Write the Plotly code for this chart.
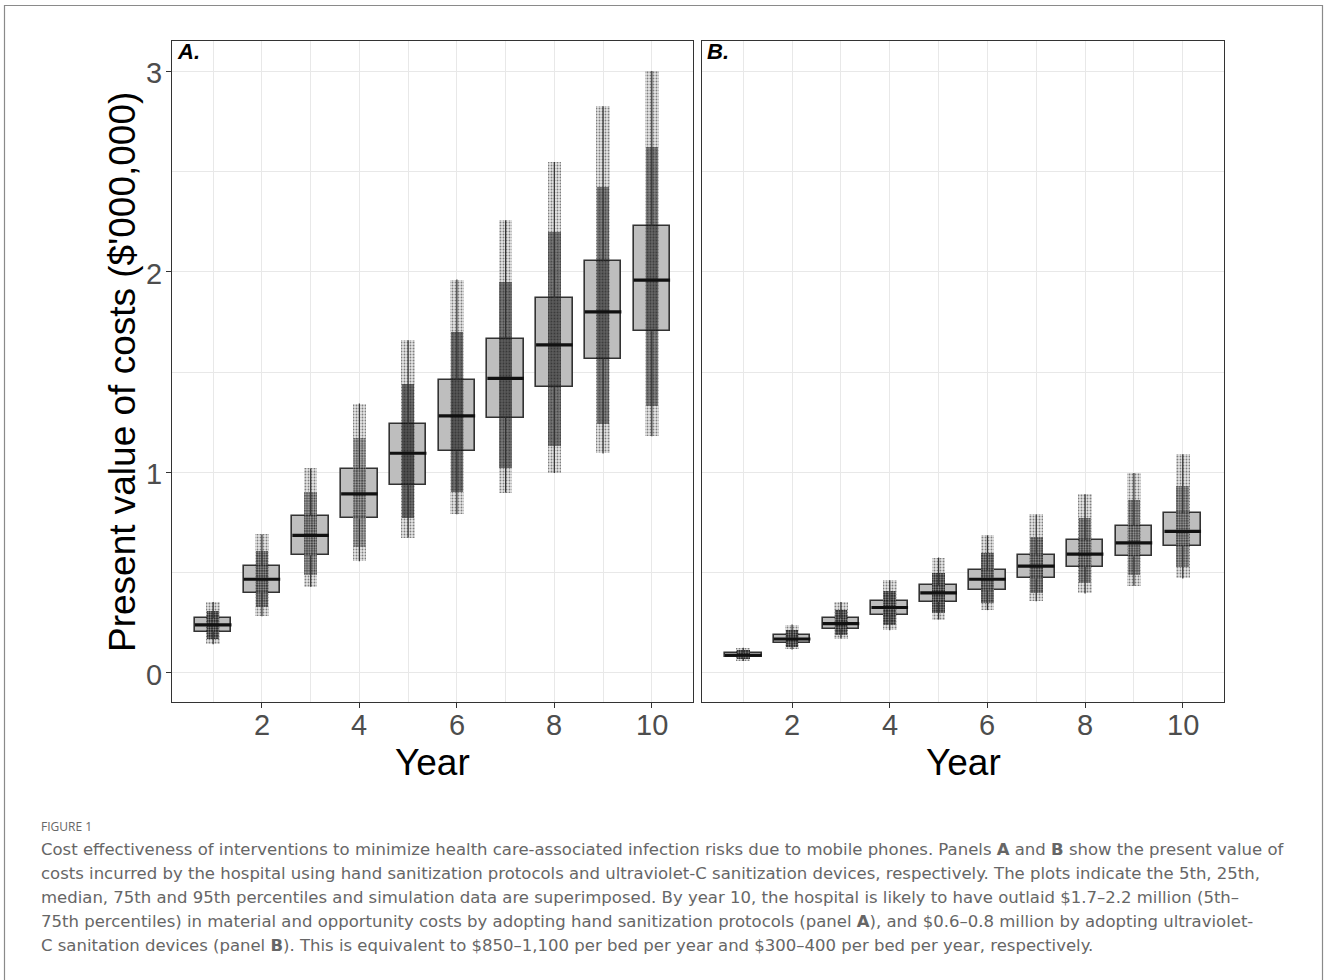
import plotly.graph_objects as go

# ---------------- data ($ millions) ----------------
years = [1, 2, 3, 4, 5, 6, 7, 8, 9, 10]
x_ticks = [2, 4, 6, 8, 10]
y_ticks = [0, 1, 2, 3]

# Panel A: hand sanitization protocols
a_min = [0.143, 0.283, 0.429, 0.557, 0.675, 0.791, 0.899, 0.997, 1.094, 1.180]
a_p5 = [0.170, 0.330, 0.490, 0.630, 0.770, 0.900, 1.020, 1.130, 1.240, 1.330]
a_q1 = [0.206, 0.399, 0.587, 0.770, 0.936, 1.105, 1.273, 1.426, 1.567, 1.703]
a_med = [0.239, 0.467, 0.686, 0.892, 1.095, 1.281, 1.468, 1.635, 1.800, 1.958]
a_q3 = [0.274, 0.533, 0.783, 1.015, 1.240, 1.459, 1.667, 1.869, 2.054, 2.227]
a_p95 = [0.310, 0.610, 0.900, 1.170, 1.440, 1.700, 1.950, 2.200, 2.420, 2.620]
a_max = [0.354, 0.690, 1.019, 1.343, 1.658, 1.961, 2.257, 2.547, 2.825, 3.001]

# Panel B: ultraviolet-C sanitization devices
b_min = [0.060, 0.117, 0.171, 0.213, 0.266, 0.313, 0.357, 0.396, 0.434, 0.471]
b_p5 = [0.070, 0.130, 0.190, 0.240, 0.300, 0.350, 0.400, 0.450, 0.490, 0.530]
b_q1 = [0.077, 0.147, 0.218, 0.291, 0.354, 0.412, 0.471, 0.529, 0.582, 0.633]
b_med = [0.088, 0.169, 0.246, 0.326, 0.399, 0.467, 0.532, 0.592, 0.648, 0.706]
b_q3 = [0.100, 0.189, 0.274, 0.357, 0.436, 0.512, 0.590, 0.662, 0.733, 0.795]
b_p95 = [0.115, 0.215, 0.315, 0.410, 0.500, 0.600, 0.680, 0.770, 0.860, 0.930]
b_max = [0.125, 0.241, 0.354, 0.462, 0.575, 0.686, 0.790, 0.891, 0.997, 1.090]

y_title = "Present value of costs ($'000,000)"
x_title = "Year"
panel_labels = ["A.", "B."]
fig_label = "FIGURE 1"
caption_lines = [
    "Cost effectiveness of interventions to minimize health care-associated infection risks due to mobile phones. Panels <b>A</b> and <b>B</b> show the present value of",
    "costs incurred by the hospital using hand sanitization protocols and ultraviolet-C sanitization devices, respectively. The plots indicate the 5th, 25th,",
    "median, 75th and 95th percentiles and simulation data are superimposed. By year 10, the hospital is likely to have outlaid $1.7–2.2 million (5th–",
    "75th percentiles) in material and opportunity costs by adopting hand sanitization protocols (panel <b>A</b>), and $0.6–0.8 million by adopting ultraviolet-",
    "C sanitation devices (panel <b>B</b>). This is equivalent to $850–1,100 per bed per year and $300–400 per bed per year, respectively.",
]

# ---------------- styling ----------------
W, H = 1328, 980
FONT = "Arial, Liberation Sans, sans-serif"
CAP_FONT = "DejaVu Sans, Open Sans, sans-serif"
BOX_W = 0.75
CLOUD_W = 0.28
FRAME = "#333333"
GRID = "#e8e8e8"
TICK_COL = "#4d4d4d"

panels = [
    dict(xa="x", ya="y", mn=a_min, p5=a_p5, q1=a_q1, md=a_med, q3=a_q3, p95=a_p95, mx=a_max),
    dict(xa="x2", ya="y2", mn=b_min, p5=b_p5, q1=b_q1, md=b_med, q3=b_q3, p95=b_p95, mx=b_max),
]

fig = go.Figure()

for p in panels:
    # boxes (lower hinge to upper hinge)
    fig.add_trace(go.Bar(
        x=years, base=p["q1"], y=[h - l for l, h in zip(p["q1"], p["q3"])],
        width=BOX_W, xaxis=p["xa"], yaxis=p["ya"],
        marker=dict(color="#bebebe", line=dict(color=FRAME, width=1.6)),
        showlegend=False, hoverinfo="skip",
    ))
    # whiskers
    wx, wy = [], []
    for yr, mn, q1, q3, mx in zip(years, p["mn"], p["q1"], p["q3"], p["mx"]):
        wx += [yr, yr, None, yr, yr, None]
        wy += [q3, mx, None, mn, q1, None]
    fig.add_trace(go.Scatter(
        x=wx, y=wy, mode="lines", xaxis=p["xa"], yaxis=p["ya"],
        line=dict(color=FRAME, width=1.2), showlegend=False, hoverinfo="skip",
    ))
    # superimposed simulation data: sparse tails (min-max) and dense core (5th-95th)
    rng_core = [h - l for l, h in zip(p["p5"], p["p95"])]
    core_alpha = [min(0.9, max(0.3, 0.42 / r ** 0.45)) for r in rng_core]
    fig.add_trace(go.Bar(
        x=years, base=p["mn"], y=[h - l for l, h in zip(p["mn"], p["mx"])],
        width=CLOUD_W, xaxis=p["xa"], yaxis=p["ya"],
        marker=dict(color="rgba(0,0,0,0.10)", line=dict(width=0),
                    pattern=dict(shape=".", fillmode="overlay", size=3, solidity=0.3,
                                 fgcolor="black", fgopacity=0.45)),
        showlegend=False, hoverinfo="skip",
    ))
    fig.add_trace(go.Bar(
        x=years, base=p["p5"], y=rng_core,
        width=CLOUD_W * 0.92, xaxis=p["xa"], yaxis=p["ya"],
        marker=dict(color=[f"rgba(0,0,0,{a:.2f})" for a in core_alpha], line=dict(width=0),
                    pattern=dict(shape=".", fillmode="overlay", size=2.5, solidity=0.45,
                                 fgcolor="black", fgopacity=0.6)),
        showlegend=False, hoverinfo="skip",
    ))
    # medians
    mx_, my_ = [], []
    for yr, md in zip(years, p["md"]):
        mx_ += [yr - BOX_W / 2, yr + BOX_W / 2, None]
        my_ += [md, md, None]
    fig.add_trace(go.Scatter(
        x=mx_, y=my_, mode="lines", xaxis=p["xa"], yaxis=p["ya"],
        line=dict(color="#111111", width=3.2), showlegend=False, hoverinfo="skip",
    ))

# ---------------- axes ----------------
def px_x(v):
    return v / W

def px_y(v):
    return 1 - v / H

xdomA = [px_x(172), px_x(693)]
xdomB = [px_x(702), px_x(1224)]
ydom = [px_y(702), px_y(41)]

xcommon = dict(
    range=[0.155, 10.845], tickmode="array", tickvals=x_ticks, showticklabels=False,
    ticks="outside", ticklen=5, tickwidth=1.1, tickcolor=FRAME,
    showgrid=True, gridcolor=GRID, gridwidth=1.2,
    minor=dict(tickvals=[1, 3, 5, 7, 9], showgrid=True, gridcolor=GRID, gridwidth=1.0, ticks=""),
    showline=True, mirror=True, linecolor=FRAME, linewidth=1.3, zeroline=False,
)
ycommon = dict(
    range=[-0.145, 3.15], tickmode="array", tickvals=y_ticks, showticklabels=False,
    showgrid=True, gridcolor=GRID, gridwidth=1.2,
    minor=dict(tickvals=[0.5, 1.5, 2.5], showgrid=True, gridcolor=GRID, gridwidth=1.0, ticks=""),
    showline=True, mirror=True, linecolor=FRAME, linewidth=1.3, zeroline=False,
)

fig.update_layout(
    width=W, height=H, margin=dict(l=0, r=0, t=0, b=0),
    paper_bgcolor="white", plot_bgcolor="white",
    barmode="overlay", bargap=0, showlegend=False,
    xaxis=dict(domain=xdomA, anchor="y", **xcommon),
    yaxis=dict(domain=ydom, anchor="x", ticks="outside", ticklen=5, tickwidth=1.1,
               tickcolor=FRAME, **ycommon),
    xaxis2=dict(domain=xdomB, anchor="y2", **xcommon),
    yaxis2=dict(domain=ydom, anchor="x2", matches="y", ticks="", **ycommon),
)

# ---------------- text ----------------
ann = []
# tick labels placed on the axes' own scales
for xr in ["x", "x2"]:
    for t in x_ticks:
        ann.append(dict(text=str(t), x=t, xref=xr, y=px_y(725), yref="paper",
                        showarrow=False, xanchor="center", yanchor="middle",
                        font=dict(family=FONT, size=29, color=TICK_COL)))
for t in y_ticks:
    ann.append(dict(text=str(t), x=px_x(164), xref="paper", y=t, yref="y",
                    showarrow=False, xanchor="right", yanchor="middle", yshift=-2,
                    font=dict(family=FONT, size=29, color=TICK_COL)))
ann.append(dict(text=y_title, x=px_x(122), y=px_y(372), xref="paper", yref="paper",
                textangle=-90, showarrow=False, xanchor="center", yanchor="middle",
                font=dict(family=FONT, size=37, color="black")))
for cx in [432.5, 963]:
    ann.append(dict(text=x_title, x=px_x(cx), y=px_y(762), xref="paper", yref="paper",
                    showarrow=False, xanchor="center", yanchor="middle",
                    font=dict(family=FONT, size=37, color="black")))
for lbl, lx in zip(panel_labels, [175, 705]):
    ann.append(dict(text=f"<b><i>{lbl}</i></b>", x=px_x(lx), y=px_y(52), xref="paper", yref="paper",
                    showarrow=False, xanchor="left", yanchor="middle",
                    font=dict(family=FONT, size=22, color="black")))
ann.append(dict(text=fig_label, x=px_x(39), y=px_y(826), xref="paper", yref="paper",
                showarrow=False, xanchor="left", yanchor="middle",
                font=dict(family="Open Sans, sans-serif", size=12, color="#666666")))
for i, line in enumerate(caption_lines):
    ann.append(dict(text=line, x=px_x(39), y=px_y(849 + 24 * i), xref="paper", yref="paper",
                    showarrow=False, xanchor="left", yanchor="middle",
                    font=dict(family=CAP_FONT, size=16.5, color="#666666")))
fig.update_layout(annotations=ann)

# outer figure border (open at the bottom of the image)
fig.add_shape(type="rect", xref="paper", yref="paper",
              x0=px_x(4.5), x1=px_x(1322.5), y0=-0.05, y1=px_y(5.5),
              line=dict(color="#8a8a8a", width=1.2), fillcolor="rgba(0,0,0,0)", layer="below")

fig.write_html(
    "out.html",
    config={"displayModeBar": False},
    post_script="document.body.style.margin='0';document.body.style.overflow='hidden';",
)
